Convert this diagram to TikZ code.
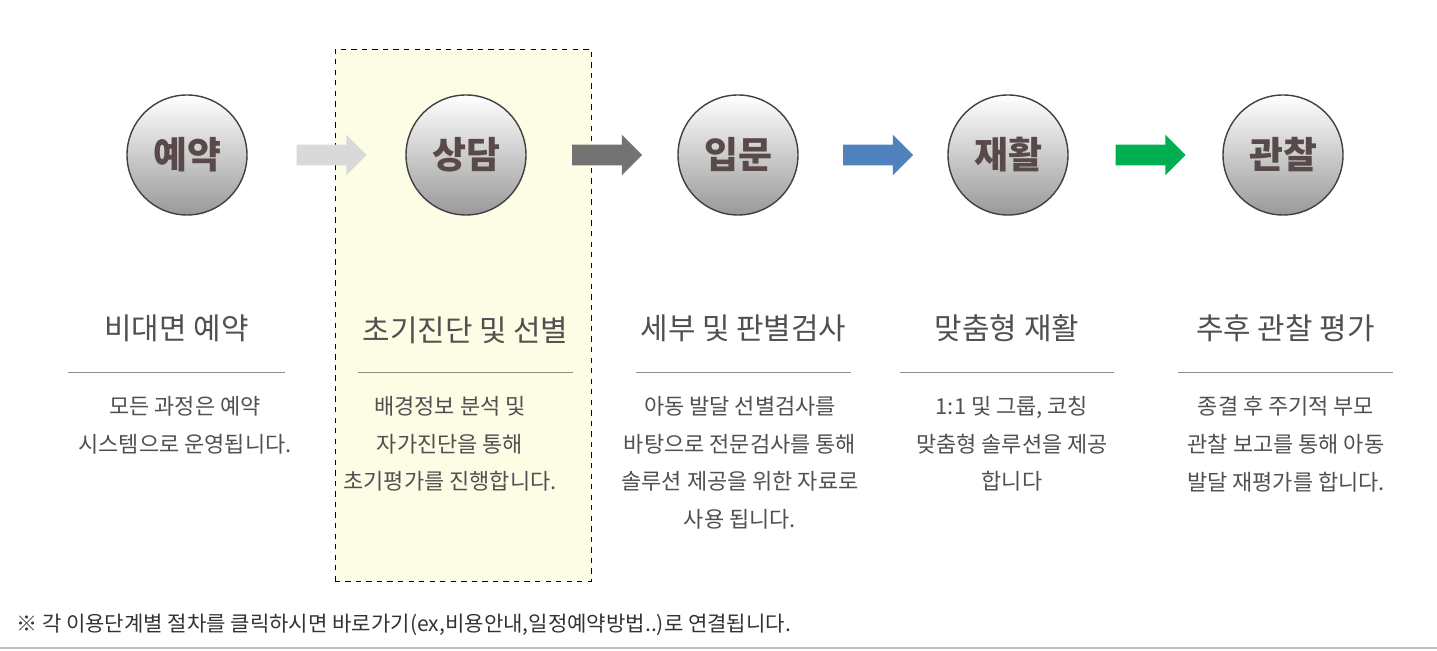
\documentclass[tikz,border=0pt]{standalone}
\usepackage{fontspec}
\setmainfont{Noto Sans CJK KR}
\usetikzlibrary{shapes.arrows, positioning, calc}
\definecolor{mytext}{RGB}{89, 74, 74}
\definecolor{mygray}{RGB}{80, 80, 80}
\definecolor{myline}{RGB}{150, 140, 135}
\definecolor{myyellow}{RGB}{253, 253, 230}
\definecolor{myblue}{RGB}{79, 129, 189}
\definecolor{mygreen}{RGB}{0, 176, 80}
\tikzstyle{stage} = [circle, draw=black!75, thick, minimum size=2.4cm,
    top color=white, bottom color=black!40, font=\fontsize{21}{24}\selectfont\bfseries,
    text=mytext]
\tikzstyle{flow} = [single arrow, draw=none, minimum height=1.4cm, minimum width=0.8cm,
    single arrow head extend=0.2cm, inner xsep=0, inner ysep=0.2cm, outer sep=0]
\tikzstyle{heading} = [font=\fontsize{17}{20}\selectfont, text=mygray]
\tikzstyle{desc} = [font=\fontsize{12.5}{21.5}\selectfont, text=mygray, align=center, anchor=north]

\begin{document}
\begin{tikzpicture}
\useasboundingbox (0,0) rectangle (28.74,13.02);

%%% Highlight box
\draw[dashed, fill=myyellow] (6.7,1.4) rectangle (11.82,12.04);

% 1. Stages
\node[stage] (c1) at (3.74,9.92) {예약};
\node[stage] (c2) at (9.32,9.92) {상담};
\node[stage] (c3) at (14.76,9.92) {입문};
\node[stage] (c4) at (20.16,9.92) {재활};
\node[stage] (c5) at (25.66,9.92) {관찰};

% 2. Arrows between stages
\node[flow, fill=black!15] (a1) at ($(c1)!0.5!(c2)$) {};
\node[flow, fill=black!55] (a2) at ($(c2)!0.5!(c3)$) {};
\node[flow, fill=myblue] (a3) at ($(c3)!0.5!(c4)$) {};
\node[flow, fill=mygreen] (a4) at ($(c4)!0.5!(c5)$) {};

% 3. Headings
\node[heading] (t1) at (3.53,6.46) {비대면 예약};
\node[heading] (t2) at (9.31,6.42) {초기진단 및 선별};
\node[heading] (t3) at (14.87,6.46) {세부 및 판별검사};
\node[heading] (t4) at (20.14,6.46) {맞춤형 재활};
\node[heading] (t5) at (25.71,6.46) {추후 관찰 평가};

% 4. Rules
\draw[myline] (1.36,5.58) -- (5.70,5.58);
\draw[myline] (7.16,5.58) -- (11.46,5.58);
\draw[myline] (12.72,5.58) -- (17.02,5.58);
\draw[myline] (18.00,5.58) -- (22.28,5.58);
\draw[myline] (23.56,5.58) -- (27.86,5.58);

% 5. Descriptions
\node[desc] (d1) at (3.70,5.22) {모든 과정은 예약\\시스템으로 운영됩니다.};
\node[desc] (d2) at (9.00,5.22) {배경정보 분석 및\\자가진단을 통해\\초기평가를 진행합니다.};
\node[desc] (d3) at (14.80,5.22) {아동 발달 선별검사를\\바탕으로 전문검사를 통해\\솔루션 제공을 위한 자료로\\사용 됩니다.};
\node[desc] (d4) at (20.24,5.22) {1:1 및 그룹, 코칭\\맞춤형 솔루션을 제공\\합니다};
\node[desc] (d5) at (25.72,5.22) {종결 후 주기적 부모\\관찰 보고를 통해 아동\\발달 재평가를 합니다.};

%%% Footer
\node[anchor=west, font=\fontsize{12}{14}\selectfont, text=black!80] (note) at (0.2,0.52)
    {※ 각 이용단계별 절차를 클릭하시면 바로가기(ex,비용안내,일정예약방법..)로 연결됩니다.};
\draw[black!25, thick] (0,0.06) -- (28.74,0.06);

\end{tikzpicture}
\end{document}
